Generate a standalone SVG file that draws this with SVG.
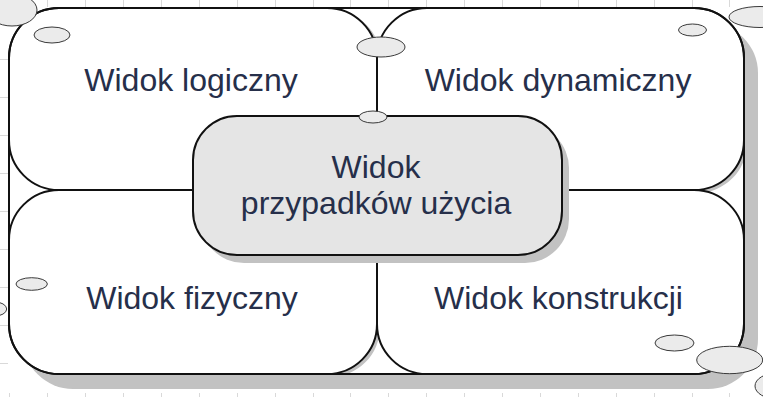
<svg xmlns="http://www.w3.org/2000/svg" width="763" height="397" viewBox="0 0 763 397">
  <style>
    .grid { stroke: #d9d9d9; stroke-width: 1; }
    .quad { fill: #ffffff; stroke: #111111; stroke-width: 2; }
    .frame { fill: none; stroke: #111111; stroke-width: 2; }
    .shadow { fill: #c2c2c2; }
    .center { fill: #e5e5e5; stroke: #111111; stroke-width: 2; }
    .blob { fill: #ebebeb; stroke: #3a3a3a; stroke-width: 1; }
    .label { font-family: "Liberation Sans", Arial, sans-serif; font-size: 32px; fill: #262f4a; text-anchor: middle; }
  </style>
  <rect width="763" height="397" fill="#ffffff"/>
  <g id="grid">
    <path class="grid" d="M0 59.5H8M0 97.5H8M0 135.5H8M0 173.5H8M0 211.5H8M0 249.5H8M0 287.5H8M0 325.5H8M0 363.5H8"/>
    <path class="grid" d="M47.5 0V7M85.5 0V7M123.5 0V7M161.5 0V7M199.5 0V7M237.5 0V7M275.5 0V7M313.5 0V7M350.5 0V7M388.5 0V7M426.5 0V7M464.5 0V7M502.5 0V7M540.5 0V7M578.5 0V7M616.5 0V7M654.5 0V7M692.5 0V7M729.5 0V7"/>
    <path class="grid" d="M9.5 393V397M47.5 393V397M85.5 393V397M123.5 393V397M161.5 393V397M199.5 393V397M237.5 393V397M275.5 393V397M313.5 393V397M350.5 393V397M388.5 393V397M426.5 393V397M464.5 393V397M502.5 393V397M540.5 393V397M578.5 393V397M616.5 393V397M654.5 393V397M692.5 393V397M729.5 393V397"/>
  </g>
  <g id="frame-back">
    <rect class="shadow" x="23" y="23" width="735" height="366" rx="50"/>
    <rect x="9" y="8" width="735" height="366" rx="50" fill="#ffffff"/>
    <path class="shadow" d="M327 8A50 50 0 0 1 377 58L381 60A50 50 0 0 0 331 10Z"/>
    <path class="shadow" d="M744 140A50 50 0 0 1 694 190L697 193A50 50 0 0 0 747 143Z"/>
    <path class="shadow" d="M377 324A50 50 0 0 1 327 374L330 377A50 50 0 0 0 380 327Z"/>
  </g>
  <g id="node-logiczny">
    <rect class="quad" x="9" y="8" width="368" height="182" rx="50"/>
    <text class="label" x="191" y="91">Widok logiczny</text>
  </g>
  <g id="node-dynamiczny">
    <rect class="quad" x="377" y="8" width="367" height="182" rx="50"/>
    <text class="label" x="558" y="91">Widok dynamiczny</text>
  </g>
  <g id="node-fizyczny">
    <rect class="quad" x="9" y="190" width="368" height="184" rx="50"/>
    <text class="label" x="192" y="309">Widok fizyczny</text>
  </g>
  <g id="node-konstrukcji">
    <rect class="quad" x="377" y="190" width="367" height="184" rx="50"/>
    <text class="label" x="558.5" y="309">Widok konstrukcji</text>
  </g>
  <g id="connectors">
    <rect class="frame" x="9" y="8" width="735" height="366" rx="50"/>
  </g>
  <g id="node-przypadkow">
    <rect class="shadow" x="200" y="124" width="369" height="139" rx="44"/>
    <rect class="center" x="193" y="116" width="369" height="139" rx="44"/>
    <text class="label" x="376" y="177.5">Widok</text>
    <text class="label" x="376" y="214">przypadków użycia</text>
  </g>
  <g id="blobs">
    <ellipse class="blob" cx="12" cy="10" rx="25" ry="16"/>
    <ellipse class="blob" cx="52" cy="35" rx="18" ry="8"/>
    <ellipse class="blob" cx="381" cy="47" rx="24" ry="10"/>
    <ellipse class="blob" cx="373" cy="117" rx="14" ry="6"/>
    <ellipse class="blob" cx="692.5" cy="30" rx="14" ry="6"/>
    <ellipse class="blob" cx="760" cy="17" rx="31" ry="10.5"/>
    <ellipse class="blob" cx="31.7" cy="284" rx="15.7" ry="6.3"/>
    <ellipse class="blob" cx="-6" cy="309" rx="12.7" ry="7.2"/>
    <ellipse class="blob" cx="674.5" cy="343" rx="19.5" ry="8"/>
    <ellipse class="blob" cx="729.7" cy="360" rx="33" ry="13.7"/>
    <ellipse class="blob" cx="777" cy="386" rx="22" ry="13"/>
  </g>
</svg>
